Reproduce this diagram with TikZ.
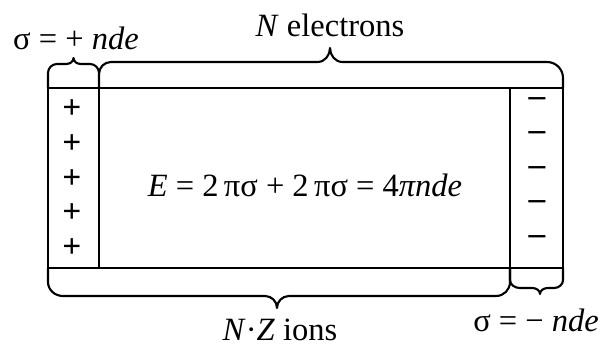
\documentclass[tikz,border=0pt]{standalone}
\usepackage{fontspec}
\setmainfont{Liberation Serif}

\tikzset{
  slab/.style={line width=1.2pt},
  brc/.style={line width=1.2pt, line join=round},
  lbl/.style={font=\fontsize{18.5}{21}\selectfont, inner sep=1pt},
  chg/.style={font=\fontsize{19}{21}\selectfont\bfseries, inner sep=0pt},
}

\newcommand{\SlabFrame}{%
  \draw[slab] (0.96,1.68) rectangle (11.26,5.28);
  \draw[slab] (1.98,1.68)  -- (1.98,5.28);
  \draw[slab] (10.20,1.68) -- (10.20,5.28);
}

\begin{document}
\begin{tikzpicture}
  \useasboundingbox (0,0) rectangle (12.28,7.04);
  \SlabFrame
  % positive layer brace
  \draw[brc] (0.96,5.28) -- (0.96,5.58) to[out=90,in=180] (1.14,5.76) -- (1.32,5.76)
    to[out=0,in=-90] (1.47,5.88) to[out=-90,in=180] (1.62,5.76) -- (1.80,5.76)
    to[out=0,in=90] (1.98,5.58);
  % electron slab brace
  \draw[brc] (1.98,5.28) -- (1.98,5.56) to[out=90,in=180] (2.22,5.80) -- (6.35,5.80)
    to[out=0,in=-90] (6.6,6.08) to[out=-90,in=180] (6.85,5.80) -- (10.94,5.80)
    to[out=0,in=90] (11.26,5.48) -- (11.26,5.28);
  % ion slab brace
  \draw[brc] (0.96,1.68) -- (0.96,1.40) to[out=-90,in=180] (1.26,1.12) -- (5.30,1.12)
    to[out=0,in=90] (5.54,0.88) to[out=90,in=180] (5.78,1.12) -- (9.92,1.12)
    to[out=0,in=-90] (10.20,1.40) -- (10.20,1.68);
  % negative layer brace
  \draw[brc] (10.20,1.68) -- (10.20,1.44) to[out=-90,in=180] (10.40,1.28) -- (10.64,1.28)
    to[out=0,in=90] (10.80,1.16) to[out=90,in=180] (10.96,1.28) -- (11.08,1.28)
    to[out=0,in=-90] (11.26,1.44) -- (11.26,1.68);

  \foreach \i/\y in {1/4.86, 2/4.16, 3/3.46, 4/2.78, 5/2.08}
    \node[chg] (p\i) at (1.44,\y) {+};
  \foreach \i/\y in {1/5.00, 2/4.32, 3/3.62, 4/2.94, 5/2.24}
    \node[chg] (m\i) at (10.74,\y) {–};

  \node[lbl] (sigp)  at (1.52,6.28)  {σ = + \textit{nde}};
  \node[lbl] (nel)   at (6.6,6.54)   {\textit{N} electrons};
  \node[lbl] (nzi)   at (5.6,0.44)   {\textit{N}·\textit{Z} ions};
  \node[lbl] (sigm)  at (10.72,0.64) {σ = − \textit{nde}};
  \node[lbl] (field) at (6.1,3.34)   {\textit{E} = 2\,πσ + 2\,πσ = 4\textit{πnde}};
\end{tikzpicture}
\end{document}
